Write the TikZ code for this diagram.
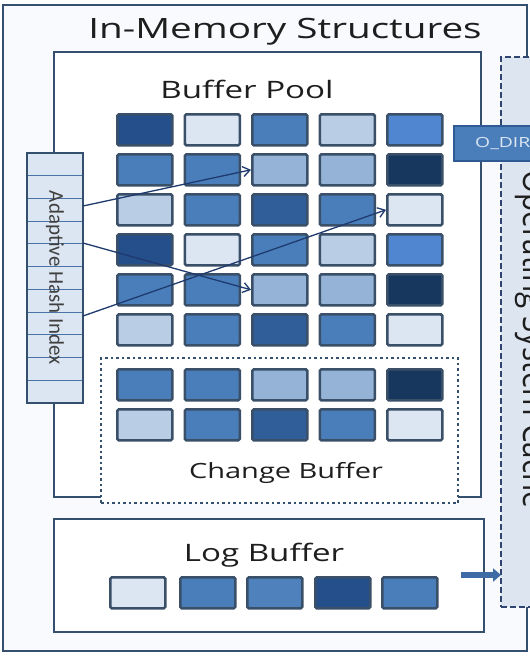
\documentclass[tikz,border=0pt]{standalone}
\usepackage{fontspec}
\usepackage{graphicx}
\setmainfont{Open Sans}[FakeStretch=1.38]
\newfontfamily\ahifont{Carlito}
\usetikzlibrary{arrows.meta}
\definecolor{bordc}{HTML}{34506E}
\definecolor{cellb}{HTML}{3A4F68}
\definecolor{outerfill}{HTML}{F8FAFD}
\definecolor{osfill}{HTML}{DDE5F0}
\definecolor{osdash}{HTML}{2F4570}
\definecolor{ahifill}{HTML}{DCE6F2}
\definecolor{ahiline}{HTML}{4A74A8}
\definecolor{ptrc}{HTML}{1F3A6E}
\definecolor{arrc}{HTML}{3E6BA5}
\definecolor{odirfill}{HTML}{4A7EBB}
\definecolor{odirdraw}{HTML}{2F5A94}
\definecolor{txt}{HTML}{1E1E1E}
\definecolor{cVD}{HTML}{17375E}
\definecolor{cD}{HTML}{254F8B}
\definecolor{cDM}{HTML}{2F5E99}
\definecolor{cM}{HTML}{4A7EBB}
\definecolor{cMtwo}{HTML}{4F81BD}
\definecolor{cMB}{HTML}{4F86CF}
\definecolor{cLM}{HTML}{95B3D7}
\definecolor{cL}{HTML}{B9CDE5}
\definecolor{cVL}{HTML}{DCE6F2}
\begin{document}
\begin{tikzpicture}[x=1pt,y=-1pt,
  box/.style={draw=bordc, line width=2pt, anchor=north west, inner sep=0pt, outer sep=0pt},
  cell/.style={draw=cellb, line width=2.6pt, rounded corners=1.5pt, anchor=north west,
    minimum width=55pt, minimum height=31pt, inner sep=0pt},
  lbl/.style={anchor=base, text=txt, inner sep=0pt},
  ptr/.style={draw=ptrc, line width=1.3pt, -{Straight Barb[length=7pt,width=10pt]}},
]
\useasboundingbox (0,0) rectangle (530,657);
\clip (0,0) rectangle (530,657);

% outer box
\node[box, fill=outerfill, minimum width=524pt, minimum height=646pt] (outer) at (3,5) {};

% OS cache box
\node[anchor=north west, inner sep=0pt, outer sep=0pt, fill=osfill, draw=osdash,
  line width=2.5pt, dash pattern=on 6pt off 3pt, minimum width=90pt, minimum height=550pt] (os) at (501,57) {};
\node[rotate=-90, anchor=base west, inner sep=0pt, text=txt] (ostext) at (523,170)
  {\fontsize{21.5}{21.5}\selectfont\scalebox{1}[1.6]{Operating System Cache}};

% buffer pool box
\node[box, fill=white, minimum width=427pt, minimum height=445pt] (bp) at (54,52) {};

% cells rows 1-6
\foreach \r/\y/\ca/\cb/\cc/\cd/\ce in {1/112/cD/cVL/cM/cL/cMB, 2/152/cM/cM/cLM/cLM/cVD,
   3/192/cL/cM/cDM/cM/cVL, 4/232/cD/cVL/cM/cL/cMB, 5/272/cM/cM/cLM/cLM/cVD, 6/312/cL/cM/cDM/cM/cVL}{
  \foreach \k/\col in {1/\ca,2/\cb,3/\cc,4/\cd,5/\ce}{
    \node[cell, fill=\col] (c-\r-\k) at ({116+67.5*(\k-1)},\y+1) {};
  }
}

% change buffer
\node[anchor=north west, inner sep=0pt, outer sep=0pt, fill=white, draw=bordc, line width=2.5pt,
  dash pattern=on 2.5pt off 3pt, minimum width=357pt, minimum height=145pt] (cb) at (101,358) {};
\foreach \r/\y/\ca/\cb/\cc/\cd/\ce in {7/367/cM/cM/cLM/cLM/cVD, 8/407/cL/cM/cDM/cM/cVL}{
  \foreach \k/\col in {1/\ca,2/\cb,3/\cc,4/\cd,5/\ce}{
    \node[cell, fill=\col] (c-\r-\k) at ({116+67.5*(\k-1)},\y+1) {};
  }
}

% adaptive hash index
\node[box, fill=ahifill, minimum width=56pt, minimum height=250pt] (ahi) at (27,153) {};
\foreach \i in {1,...,10}{
  \draw[ahiline, line width=0.9pt] (28,{153+250/11*\i}) -- (82,{153+250/11*\i});
}
\node[rotate=-90, inner sep=0pt, text=txt!85] (ahitext) at (55,278)
  {\ahifont\fontsize{21}{21}\selectfont Adaptive Hash Index};

% pointers
\coordinate (a1) at (83,206);
\coordinate (a2) at (83,243);
\coordinate (a3) at (83,316);
\draw[ptr] (a1) -- (c-2-3.west);
\draw[ptr] (a2) -- (c-5-3.west);
\draw[ptr] (a3) -- (c-3-5.west);

% log buffer
\node[box, fill=white, minimum width=430pt, minimum height=113pt] (lb) at (54,519) {};
\foreach \k/\x/\col in {1/108/cVL,2/178/cM,3/245/cMtwo,4/313/cD,5/380/cM}{
  \node[cell, fill=\col] (l-\k) at (\x+1,576) {};
}
\coordinate (lg) at (461,575);
\draw[line width=5.5pt, draw=arrc, -{Triangle[length=8pt,width=13pt]}] (lg) -- (os.west |- lg);

% O_DIRECT box
\node[anchor=north west, inner sep=0pt, fill=odirfill, draw=odirdraw, line width=2pt,
  minimum width=100pt, minimum height=35pt] (odir) at (453,125) {};
\node[anchor=base west, inner sep=0pt, text=cVL] (odirtext) at (475,147)
  {\fontsize{14}{14}\selectfont O\_DIR};

% labels
\node[lbl] (title) at (285,38) {\fontsize{28}{30}\selectfont In-Memory Structures};
\node[lbl] (bptext) at (247,98) {\fontsize{24}{26}\selectfont Buffer Pool};
\node[lbl] (cbtext) at (286,478) {\fontsize{21}{23}\selectfont Change Buffer};
\node[lbl] (lbtext) at (264,561) {\fontsize{24}{26}\selectfont Log Buffer};
\end{tikzpicture}
\end{document}
